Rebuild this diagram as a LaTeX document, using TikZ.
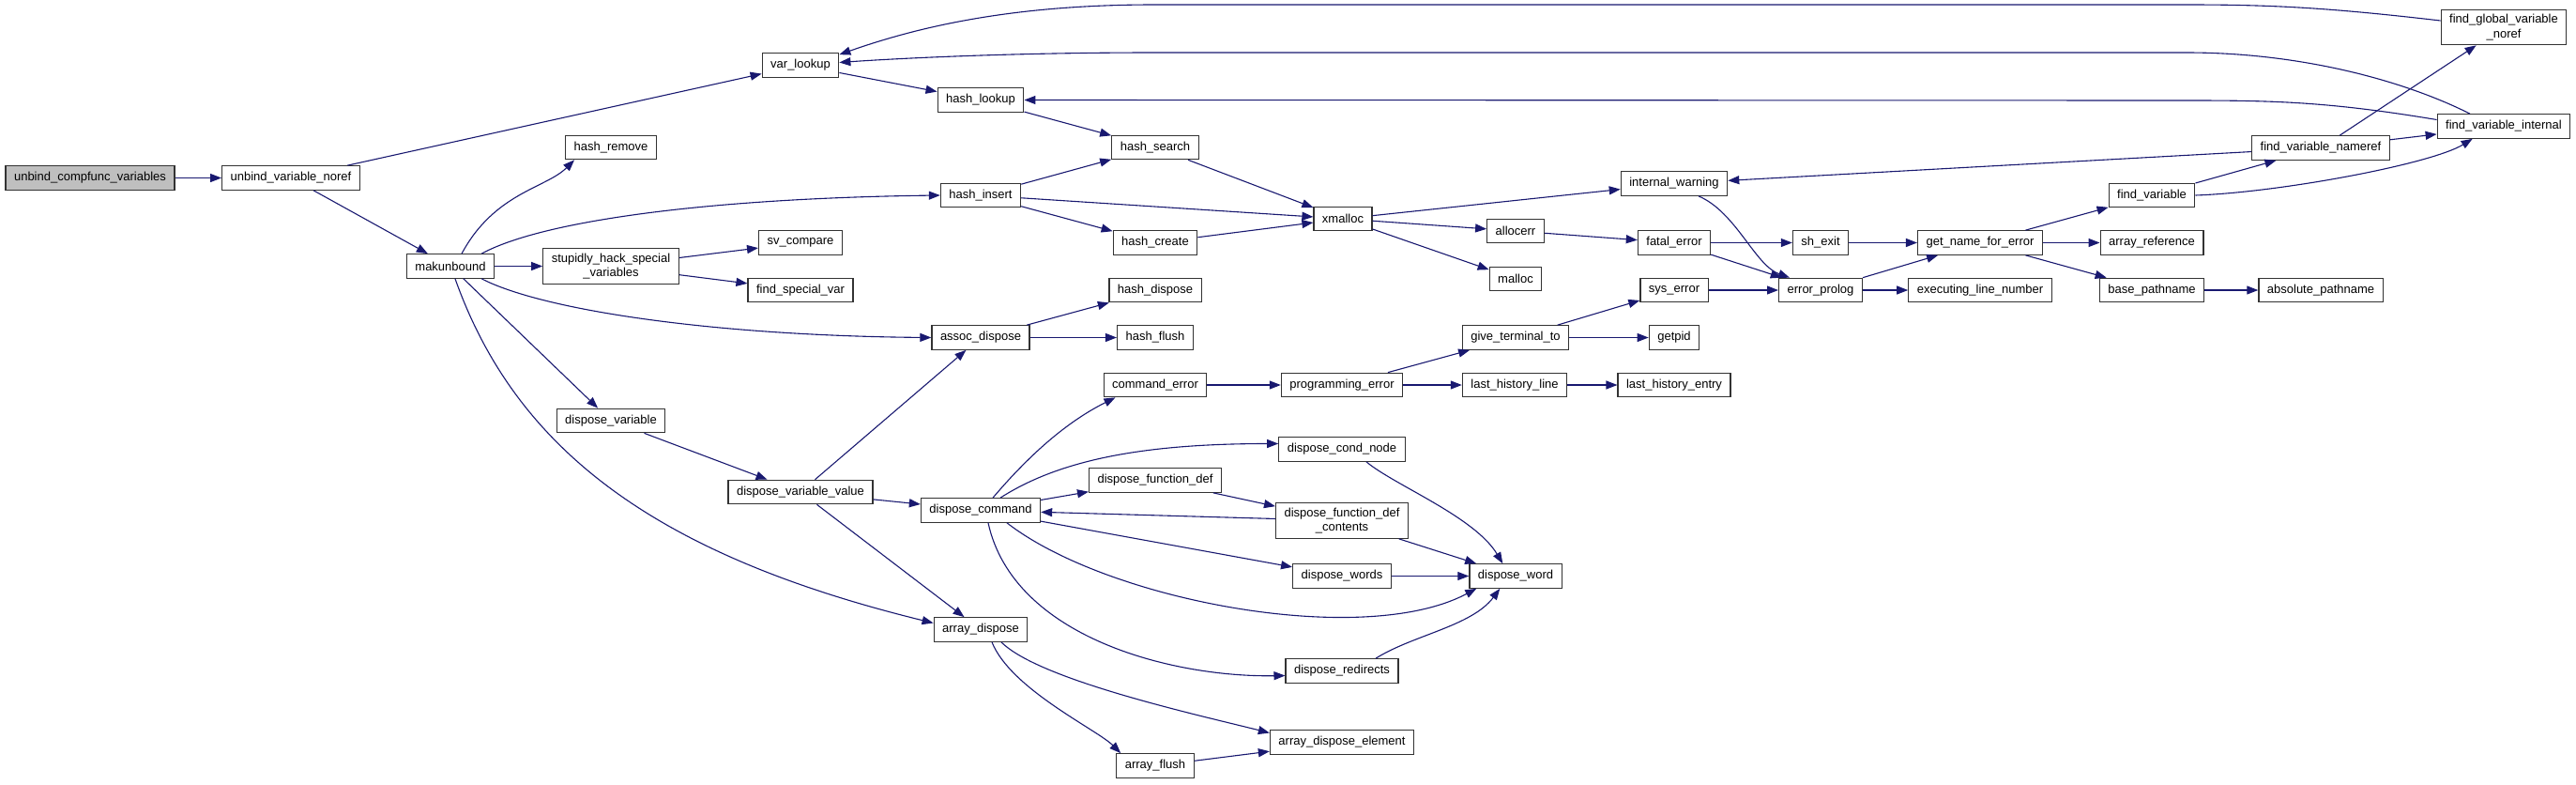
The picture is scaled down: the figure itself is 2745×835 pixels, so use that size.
\documentclass[tikz,border=0pt]{standalone}
\usepackage{fontspec}
\setmainfont{Liberation Sans}
\usetikzlibrary{arrows.meta}
\definecolor{edgeblue}{RGB}{25,25,112}
\definecolor{rootgray}{RGB}{191,191,191}

\begin{document}
\begin{tikzpicture}[x=1pt,y=-1pt,
          fn/.style={draw=black!80,line width=1.2pt,fill=white,minimum height=25.5pt,
                     inner xsep=9pt,inner ysep=5pt,align=center,
                     font=\fontsize{13}{15.5}\selectfont},
          root/.style={fn,fill=rootgray},
          calls/.style={edgeblue,line width=1.1pt,-{Triangle[length=12pt,width=9pt]}}]
        \useasboundingbox (0,0) rectangle (2745,835);
        % left part
        \node[root](ucv) at (96,189.5) {unbind\_compfunc\_variables};
        \node[fn](uvn) at (310,189.5) {unbind\_variable\_noref};
        \node[fn](mk) at (480,283.5) {makunbound};
        \node[fn](hr) at (651,157) {hash\_remove};
        \node[fn](shsv) at (651,283.5) {stupidly\_hack\_special\\\_variables};
        \node[fn](dv) at (651,448) {dispose\_variable};
        \node[fn](vl) at (853,69.5) {var\_lookup};
        \node[fn](svc) at (853,258.5) {sv\_compare};
        \node[fn](fsv) at (853,309) {find\_special\_var};
        \node[fn](dvv) at (853,524) {dispose\_variable\_value};
        % hash and dispose columns
        \node[fn](hl) at (1045,106.5) {hash\_lookup};
        \node[fn](hi) at (1045,208) {hash\_insert};
        \node[fn](asd) at (1045,359.5) {assoc\_dispose};
        \node[fn](dc) at (1045,543.5) {dispose\_command};
        \node[fn](ad) at (1045,670.5) {array\_dispose};
        \node[fn](hs) at (1231,157) {hash\_search};
        \node[fn](hc) at (1231,258.5) {hash\_create};
        \node[fn](hd) at (1231,309) {hash\_dispose};
        \node[fn](hf) at (1231,359.5) {hash\_flush};
        \node[fn](ce) at (1231,410) {command\_error};
        \node[fn](dfd) at (1231,511.5) {dispose\_function\_def};
        \node[fn](af) at (1231,815.5) {array\_flush};
        \node[fn](xm) at (1431,233) {xmalloc};
        \node[fn](pe) at (1430,410) {programming\_error};
        \node[fn](dcn) at (1430,478.5) {dispose\_cond\_node};
        \node[fn](dfdc) at (1430,554.5) {dispose\_function\_def\\\_contents};
        \node[fn](dws) at (1430,613.5) {dispose\_words};
        \node[fn](dr) at (1430,714.5) {dispose\_redirects};
        \node[fn](ade) at (1430,790.5) {array\_dispose\_element};
        \node[fn](ae) at (1615,246) {allocerr};
        \node[fn](ml) at (1615,297) {malloc};
        \node[fn](gtt) at (1615,359.5) {give\_terminal\_to};
        \node[fn](lhl) at (1614,410) {last\_history\_line};
        \node[fn](dw) at (1615,613.5) {dispose\_word};
        % error part
        \node[fn](iw) at (1784,195.5) {internal\_warning};
        \node[fn](fe) at (1784,258.5) {fatal\_error};
        \node[fn](se) at (1784,309) {sys\_error};
        \node[fn](gp) at (1784,359.5) {getpid};
        \node[fn](lhe) at (1784,410) {last\_history\_entry};
        \node[fn](sx) at (1940,258.5) {sh\_exit};
        \node[fn](ep) at (1940,309) {error\_prolog};
        \node[fn](gnfe) at (2110,258.5) {get\_name\_for\_error};
        \node[fn](eln) at (2110,309) {executing\_line\_number};
        \node[fn](fv) at (2293,208) {find\_variable};
        \node[fn](ar) at (2293,258.5) {array\_reference};
        \node[fn](bp) at (2293,309) {base\_pathname};
        \node[fn](fvn) at (2473,157.5) {find\_variable\_nameref};
        \node[fn](ap) at (2473,309) {absolute\_pathname};
        \node[fn](fgvn) at (2668,29) {find\_global\_variable\\\_noref};
        \node[fn](fvi) at (2668,134.5) {find\_variable\_internal};
        % straight calls
        \draw[calls](ucv)--(uvn);
        \draw[calls](uvn)--(vl);
        \draw[calls](uvn)--(mk);
        \draw[calls](mk)--(shsv);
        \draw[calls](mk)--(dv);
        \draw[calls](shsv)--(svc);
        \draw[calls](shsv)--(fsv);
        \draw[calls](vl)--(hl);
        \draw[calls](hl)--(hs);
        \draw[calls](hi)--(hs);
        \draw[calls](hi)--(xm);
        \draw[calls](hi)--(hc);
        \draw[calls](hs)--(xm);
        \draw[calls](hc)--(xm);
        \draw[calls](xm)--(iw);
        \draw[calls](xm)--(ae);
        \draw[calls](xm)--(ml);
        \draw[calls](ae)--(fe);
        \draw[calls](fe)--(sx);
        \draw[calls](fe)--(ep);
        \draw[calls](se)--(ep);
        \draw[calls](sx)--(gnfe);
        \draw[calls](ep)--(gnfe);
        \draw[calls](ep)--(eln);
        \draw[calls](gnfe)--(fv);
        \draw[calls](gnfe)--(ar);
        \draw[calls](gnfe)--(bp);
        \draw[calls](bp)--(ap);
        \draw[calls](fv)--(fvn);
        \draw[calls](fvn)--(fvi);
        \draw[calls](fvn)--(fgvn);
        \draw[calls](fvn)--(iw);
        \draw[calls](asd)--(hd);
        \draw[calls](asd)--(hf);
        \draw[calls](dv)--(dvv);
        \draw[calls](dvv)--(asd);
        \draw[calls](dvv)--(dc);
        \draw[calls](dvv)--(ad);
        \draw[calls](ce)--(pe);
        \draw[calls](pe)--(gtt);
        \draw[calls](pe)--(lhl);
        \draw[calls](lhl)--(lhe);
        \draw[calls](gtt)--(se);
        \draw[calls](gtt)--(gp);
        \draw[calls](dc)--(dfd);
        \draw[calls](dfd)--(dfdc);
        \draw[calls](dfdc)--(dc);
        \draw[calls](dc)--(dws);
        \draw[calls](dfdc)--(dw);
        \draw[calls](dws)--(dw);
        \draw[calls](af)--(ade);
        % curved calls
        \draw[calls]([xshift=12pt]mk.north) .. controls +(35,-65) and +(-30,30) .. ([xshift=10pt]hr.south west);
        \draw[calls]([xshift=-14pt]mk.north east) .. controls +(66,-36) and +(-240,3) .. (hi.west);
        \draw[calls]([xshift=-14pt]mk.south east) .. controls +(66,34) and +(-230,-2) .. (asd.west);
        \draw[calls]([xshift=5pt]mk.south) .. controls +(66,186) and +(-290,-71) .. ([yshift=7pt]ad.west);
        \draw[calls]([xshift=26pt]iw.south) .. controls +(40,17) and +(-37,-13) .. ([xshift=12pt]ep.north west);
        \draw[calls](fv.east) .. controls +(89,-3) and +(-44,27) .. ([xshift=38pt]fvi.south west);
        \draw[calls]([xshift=13pt]dc.north) .. controls +(45,-53) and +(-46,23) .. ([xshift=13pt]ce.south west);
        \draw[calls]([xshift=21pt]dc.north) .. controls +(64,-41) and +(-142,0) .. ([yshift=6pt]dcn.west);
        \draw[calls]([xshift=28pt]dc.south) .. controls +(107,83) and +(-121,64) .. ([xshift=8pt]dw.south west);
        \draw[calls]([xshift=8pt]dc.south) .. controls +(27,123) and +(-118,2) .. ([yshift=-5pt]dr.west);
        \draw[calls]([xshift=26pt]dcn.south) .. controls +(30,25) and +(-30,-50) .. ([xshift=36pt]dw.north west);
        \draw[calls]([xshift=36pt]dr.north) .. controls +(40,-25) and +(-30,40) .. ([xshift=33pt]dw.south west);
        \draw[calls]([xshift=22pt]ad.south) .. controls +(40,40) and +(-80,-20) .. ([yshift=10pt]ade.west);
        \draw[calls]([xshift=12pt]ad.south) .. controls +(20,50) and +(-25,-25) .. ([xshift=5pt]af.north west);
        % long calls back to the lookups
        \draw[calls]([yshift=7pt]fgvn.west) .. controls (2480,8) and (2420,5) .. (2330,5) -- (1230,5)
          .. controls (1080,5) and (980,28) .. ([yshift=-2pt]vl.north east);
        \draw[calls]([xshift=-36pt]fvi.north) .. controls (2560,85) and (2450,56) .. (2330,56) -- (1230,56)
          .. controls (1080,56) and (960,62) .. ([yshift=3pt]vl.east);
        \draw[calls]([yshift=7pt]fvi.west) .. controls (2480,108) and (2420,107) .. (2330,107) -- (hl.east);
      \end{tikzpicture}
\end{document}
